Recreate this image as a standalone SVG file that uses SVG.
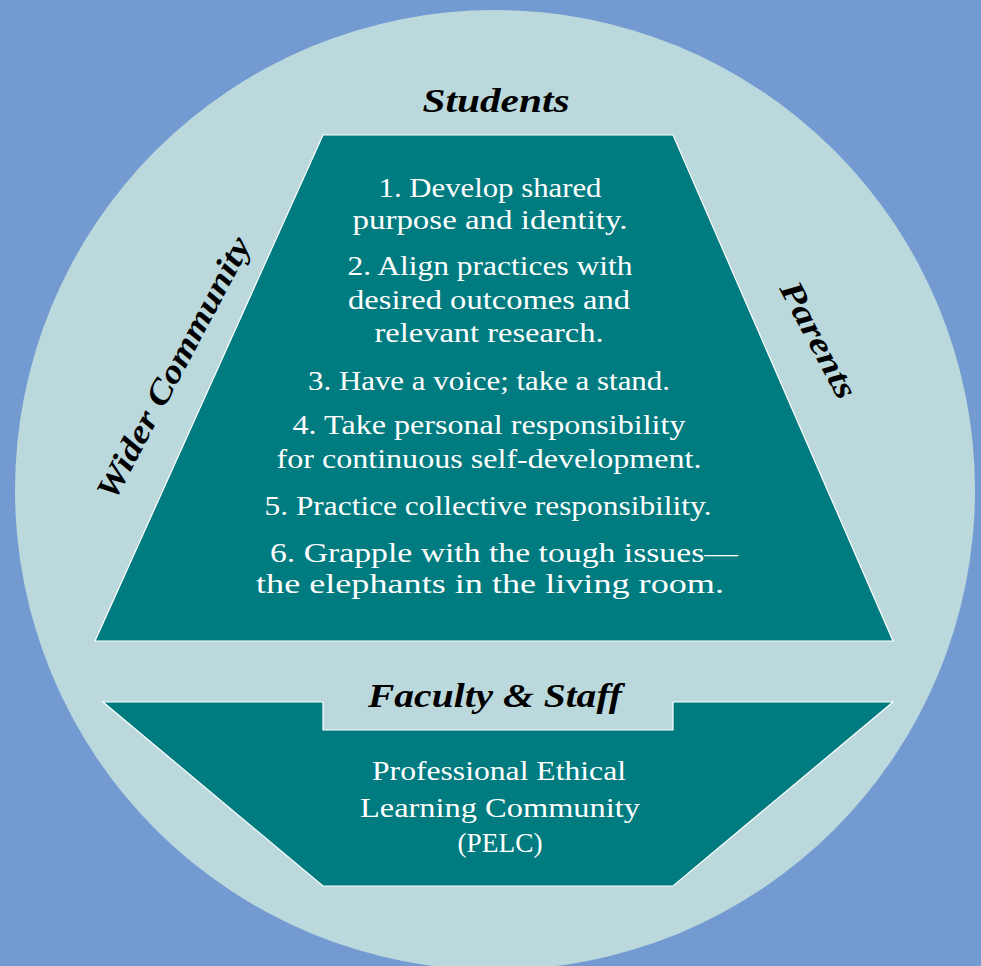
<svg xmlns="http://www.w3.org/2000/svg" width="981" height="966" viewBox="0 0 981 966">
<style>
.body{font-family:"Liberation Serif","DejaVu Serif",serif;font-size:27px;fill:#ffffff;text-anchor:middle}
.pelc{font-family:"Liberation Serif","DejaVu Serif",serif;font-size:28px;fill:#ffffff;text-anchor:middle}
.title{font-family:"Liberation Serif","DejaVu Serif",serif;font-size:33px;font-weight:bold;font-style:italic;fill:#000000;text-anchor:middle}
.shape{fill:#007b80;stroke:#ffffff;stroke-width:1.2}
</style>
<rect x="0" y="0" width="981" height="966" fill="#739bd2"/>
<circle cx="495" cy="490" r="480" fill="#bbd8dc"/>
<g id="trapezoid">
<polygon class="shape" points="323,135 673,135 893,641 95,641"/>
<text class="body" x="490" y="197" textLength="223" lengthAdjust="spacingAndGlyphs">1. Develop shared</text>
<text class="body" x="490" y="229" textLength="275" lengthAdjust="spacingAndGlyphs">purpose and identity.</text>
<text class="body" x="490" y="275" textLength="285" lengthAdjust="spacingAndGlyphs">2. Align practices with</text>
<text class="body" x="489" y="309" textLength="282" lengthAdjust="spacingAndGlyphs">desired outcomes and</text>
<text class="body" x="489" y="342" textLength="229" lengthAdjust="spacingAndGlyphs">relevant research.</text>
<text class="body" x="489" y="390" textLength="362" lengthAdjust="spacingAndGlyphs">3. Have a voice; take a stand.</text>
<text class="body" x="489" y="434" textLength="393" lengthAdjust="spacingAndGlyphs">4. Take personal responsibility</text>
<text class="body" x="489" y="468" textLength="425" lengthAdjust="spacingAndGlyphs">for continuous self-development.</text>
<text class="body" x="488" y="515" textLength="447" lengthAdjust="spacingAndGlyphs">5. Practice collective responsibility.</text>
<text class="body" x="504" y="562" textLength="468" lengthAdjust="spacingAndGlyphs">6. Grapple with the tough issues—</text>
<text class="body" x="490" y="593" textLength="468" lengthAdjust="spacingAndGlyphs">the elephants in the living room.</text>
</g>
<g id="pelc">
<polygon class="shape" points="103,702 323,702 323,730 673,730 673,702 893,702 673,886 323,886"/>
<text class="pelc" x="499" y="780" textLength="254" lengthAdjust="spacingAndGlyphs">Professional Ethical</text>
<text class="pelc" x="500" y="817" textLength="280" lengthAdjust="spacingAndGlyphs">Learning Community</text>
<text class="pelc" x="500" y="852" textLength="85" lengthAdjust="spacingAndGlyphs">(PELC)</text>
</g>
<g id="students">
<text class="title" x="496" y="112" textLength="147" lengthAdjust="spacingAndGlyphs">Students</text>
</g>
<g id="faculty">
<text class="title" x="495" y="707" textLength="254" lengthAdjust="spacingAndGlyphs">Faculty &amp; Staff</text>
</g>
<g id="wider-community">
<text class="title" transform="translate(183,373) rotate(-62)" x="0" y="0" textLength="292" lengthAdjust="spacingAndGlyphs">Wider Community</text>
</g>
<g id="parents">
<text class="title" transform="translate(809,345) rotate(62)" x="0" y="0" textLength="128" lengthAdjust="spacingAndGlyphs">Parents</text>
</g>
<g id="connectors"></g>
</svg>
